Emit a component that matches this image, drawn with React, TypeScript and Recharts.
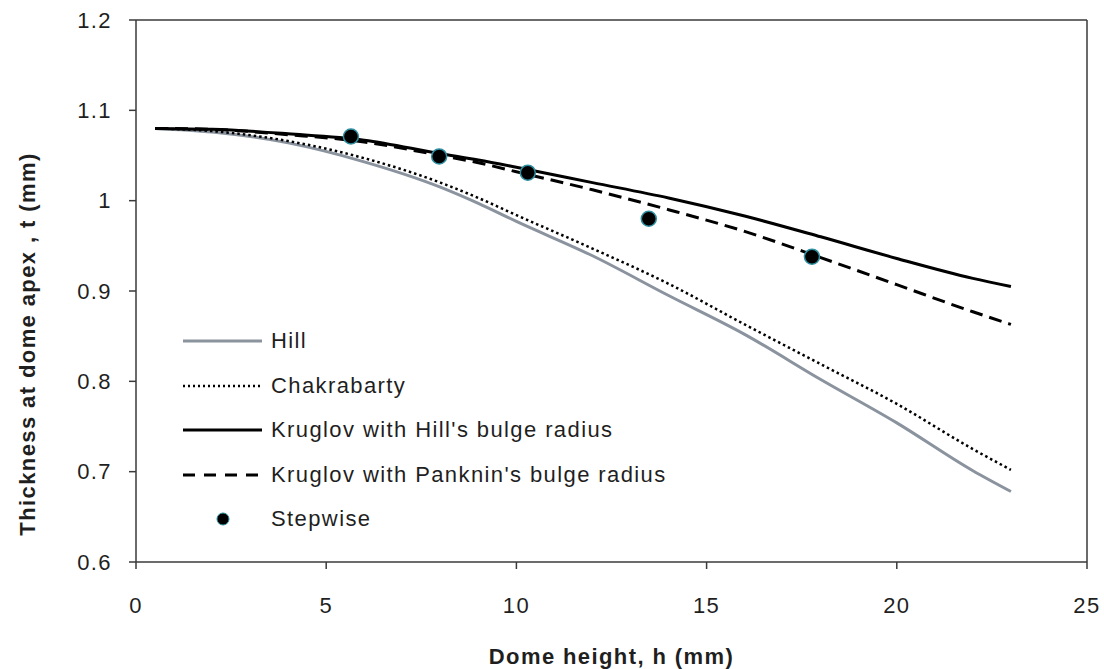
import {
  ComposedChart,
  Line,
  Scatter,
  XAxis,
  YAxis,
  ReferenceLine,
  Legend,
} from 'recharts';

// dome height h (mm) sampled along the curves
const curveH = [0.5, 2, 4, 6, 8, 9, 10, 12, 14, 16, 18, 20, 22, 23];

const hill = [1.08, 1.076, 1.064, 1.043, 1.015, 0.997, 0.977, 0.939, 0.895, 0.852, 0.802, 0.754, 0.701, 0.678];
const chakrabarty = [1.08, 1.077, 1.066, 1.047, 1.02, 1.003, 0.984, 0.947, 0.908, 0.863, 0.819, 0.775, 0.725, 0.702];
const kruglovHill = [1.08, 1.079, 1.074, 1.067, 1.052, 1.045, 1.037, 1.02, 1.003, 0.983, 0.96, 0.936, 0.914, 0.905];
const kruglovPanknin = [1.08, 1.079, 1.073, 1.065, 1.05, 1.042, 1.032, 1.012, 0.99, 0.966, 0.937, 0.907, 0.877, 0.863];

const stepH = [5.65, 7.97, 10.3, 13.48, 17.77];
const stepT = [1.071, 1.049, 1.031, 0.98, 0.938];

const xTicks = [0, 5, 10, 15, 20, 25];
const yTicks = [0.6, 0.7, 0.8, 0.9, 1, 1.1, 1.2];

const FONT = '"Liberation Sans", Arial, sans-serif';
const SIZE = 22;
const SPACING = 1.4;
const TEXT = '#1f1f1f';
const AXIS = '#3a3a3a';

const toPoints = (ys: number[]) => curveH.map((h, i) => ({ h, t: ys[i] }));
const stepData = stepH.map((h, i) => ({ h, t: stepT[i] }));

const SERIES = [
  { name: 'Hill', data: toPoints(hill), stroke: '#8a939e', width: 3, dash: undefined, legendDash: undefined },
  { name: 'Chakrabarty', data: toPoints(chakrabarty), stroke: '#000', width: 2.5, dash: '2.5 3', legendDash: '2 3' },
  { name: "Kruglov with Hill's bulge radius", data: toPoints(kruglovHill), stroke: '#000', width: 3, dash: undefined, legendDash: undefined },
  { name: "Kruglov with Panknin's bulge radius", data: toPoints(kruglovPanknin), stroke: '#000', width: 3, dash: '13 7', legendDash: '12 9' },
];

const StepDot = (props: any) => {
  const { cx, cy } = props;
  return <circle cx={cx} cy={cy} r={7.5} fill="#000" stroke="#2e8fa0" strokeWidth={1.5} />;
};

const LegendBox = () => (
  <div style={{ fontFamily: FONT, fontSize: SIZE, letterSpacing: SPACING, color: TEXT }}>
    {SERIES.map((s) => (
      <div key={s.name} style={{ height: 44.5, display: 'flex', alignItems: 'center' }}>
        <svg width={91} height={10}>
          <line
            x1={3}
            y1={5}
            x2={82}
            y2={5}
            stroke={s.stroke}
            strokeWidth={s.width}
            strokeDasharray={s.legendDash}
          />
        </svg>
        <span>{s.name}</span>
      </div>
    ))}
    <div style={{ height: 44.5, display: 'flex', alignItems: 'center' }}>
      <svg width={91} height={16}>
        <circle cx={43} cy={8} r={6} fill="#000" stroke="#2e8fa0" strokeWidth={1} />
      </svg>
      <span>Stepwise</span>
    </div>
  </div>
);

const XTitle = (props: any) => {
  const { viewBox } = props;
  return (
    <text
      x={viewBox.x + viewBox.width / 2}
      y={viewBox.y + 102}
      textAnchor="middle"
      fontFamily={FONT}
      fontSize={SIZE}
      letterSpacing={SPACING}
      fontWeight="bold"
      fill={TEXT}
    >
      Dome height, h (mm)
    </text>
  );
};

const YTitle = (props: any) => {
  const { viewBox } = props;
  const cy = viewBox.y + viewBox.height / 2 + 53;
  return (
    <text
      x={35}
      y={cy}
      transform={`rotate(-90, 35, ${cy})`}
      textAnchor="middle"
      fontFamily={FONT}
      fontSize={SIZE}
      letterSpacing={SPACING}
      fontWeight="bold"
      fill={TEXT}
    >
      Thickness at dome apex , t (mm)
    </text>
  );
};

export default function App() {
  const tick = { fill: TEXT, fontSize: SIZE, fontFamily: FONT, letterSpacing: SPACING };
  return (
    <div style={{ position: 'absolute', left: 0, top: 0, background: '#fff' }}>
      <ComposedChart width={1104} height={669} margin={{ top: 20, right: 17, bottom: 0, left: 0 }}>
        <XAxis
          type="number"
          dataKey="h"
          domain={[0, 25]}
          ticks={xTicks}
          tick={tick}
          tickSize={7}
          tickMargin={28}
          height={107}
          stroke={AXIS}
          strokeWidth={1.5}
          allowDataOverflow
          label={<XTitle />}
        />
        <YAxis
          type="number"
          dataKey="t"
          domain={[0.6, 1.2]}
          ticks={yTicks}
          tick={tick}
          tickSize={7}
          tickMargin={17}
          width={136}
          stroke={AXIS}
          strokeWidth={1.5}
          allowDataOverflow
          label={<YTitle />}
        />
        <ReferenceLine y={1.2} stroke={AXIS} strokeWidth={1.5} />
        <ReferenceLine x={25} stroke={AXIS} strokeWidth={1.5} />
        {SERIES.map((s) => (
          <Line
            key={s.name}
            name={s.name}
            data={s.data}
            dataKey="t"
            type="monotone"
            stroke={s.stroke}
            strokeWidth={s.width}
            strokeDasharray={s.dash}
            dot={false}
            activeDot={false}
            isAnimationActive={false}
          />
        ))}
        <Scatter
          name="Stepwise"
          data={stepData}
          dataKey="t"
          shape={<StepDot />}
          isAnimationActive={false}
        />
        <Legend
          layout="vertical"
          align="center"
          verticalAlign="middle"
          content={<LegendBox />}
          wrapperStyle={{ left: 180, top: 319, width: 560 }}
        />
      </ComposedChart>
    </div>
  );
}
